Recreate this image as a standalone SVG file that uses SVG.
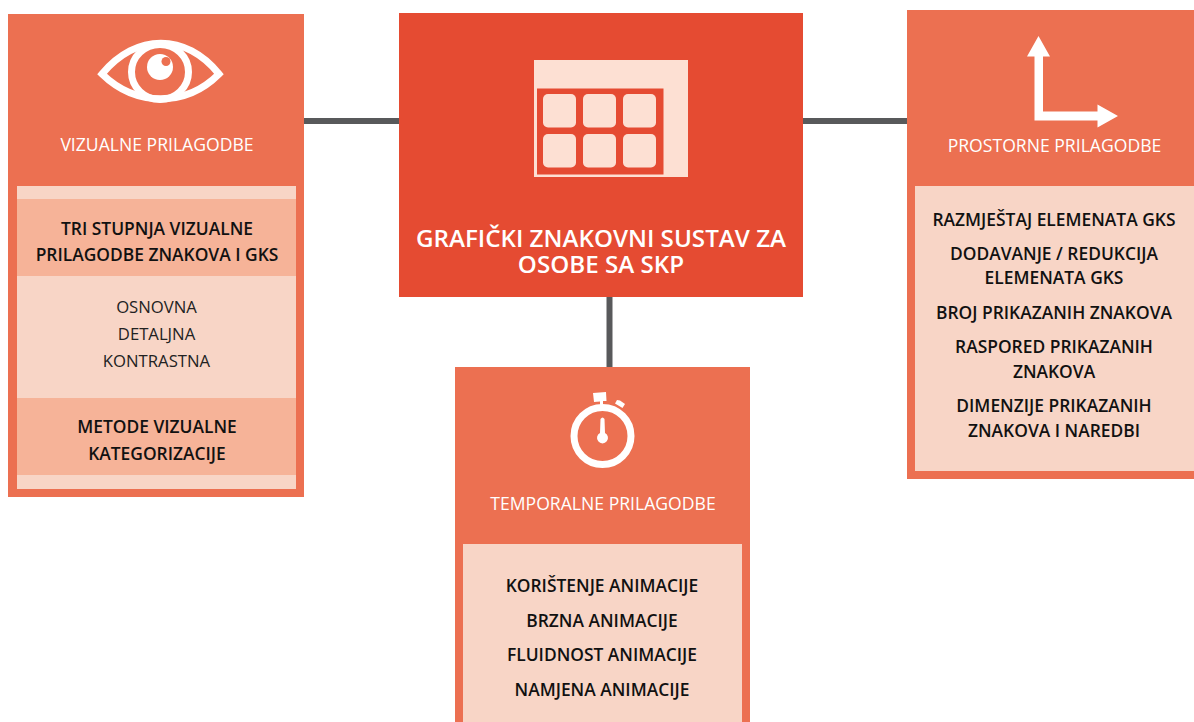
<svg xmlns="http://www.w3.org/2000/svg" width="1194" height="722" viewBox="0 0 1194 722">
<style>
.t{font-family:"Open Sans","Noto Sans","Liberation Sans",sans-serif;text-anchor:middle}
.w{fill:#fff;font-size:17.600px;font-weight:500}
.b{fill:#111;font-size:17.400px;font-weight:600}
.n{fill:#222;font-size:16.700px}
.o{fill:#ec7051}
.p{fill:#f8d5c6}
.s{fill:#f6b398}
.c{fill:#fde0d3}
</style>
<rect width="1194" height="722" fill="#fff"/>
<g id="connectors" stroke="#58595b" stroke-width="6" fill="none">
<path d="M304 121H399"/><path d="M803 121H907"/><path d="M609.500 297V367"/>
</g>
<g id="visual">
<rect class="o" x="8" y="14" width="296" height="483"/>
<rect class="p" x="17" y="186" width="279" height="303"/>
<rect class="s" x="17" y="199" width="279" height="77"/>
<rect class="s" x="17" y="398" width="279" height="77"/>
<g fill="none" stroke="#fff" stroke-width="7">
<path d="M102 74C136 33 186 33 219 74C186 107 136 107 102 74Z"/>
<ellipse cx="160" cy="72" rx="28.500" ry="27.500"/>
</g>
<circle cx="160" cy="67" r="13" fill="#fff"/><circle cx="166" cy="61.500" r="4.500" fill="#ec7051"/>
<text class="t w" x="157" y="151">VIZUALNE PRILAGODBE</text>
<text class="t b" x="157" y="234.500">TRI STUPNJA VIZUALNE</text>
<text class="t b" x="157" y="260.500">PRILAGODBE ZNAKOVA I GKS</text>
<text class="t n" x="156.500" y="313">OSNOVNA</text>
<text class="t n" x="156.500" y="340">DETALJNA</text>
<text class="t n" x="156.500" y="367">KONTRASTNA</text>
<text class="t b" x="157" y="433">METODE VIZUALNE</text>
<text class="t b" x="157" y="460">KATEGORIZACIJE</text>
</g>
<g id="central">
<rect x="399" y="13" width="404" height="284" fill="#e54b32"/>
<rect class="c" x="534" y="60" width="154" height="117"/>
<rect x="537" y="88.500" width="126.500" height="86" fill="#e54b32"/>
<g class="c">
<rect x="543" y="94" width="33" height="33.500" rx="5"/><rect x="583" y="94" width="33" height="33.500" rx="5"/><rect x="623" y="94" width="33" height="33.500" rx="5"/>
<rect x="543" y="134" width="33" height="33.500" rx="5"/><rect x="583" y="134" width="33" height="33.500" rx="5"/><rect x="623" y="134" width="33" height="33.500" rx="5"/>
</g>
<text class="t" x="601" y="247" fill="#fff" font-size="24.200" font-weight="600">GRAFIČKI ZNAKOVNI SUSTAV ZA</text>
<text class="t" x="601" y="273" fill="#fff" font-size="24.200" font-weight="600">OSOBE SA SKP</text>
</g>
<g id="spatial">
<rect class="o" x="907" y="10" width="287" height="469"/>
<rect class="p" x="915" y="186" width="279" height="285"/>
<path fill="#fff" d="M1038.500 36L1050 56.500H1043V111.500H1097.500V104.500L1118 116L1097.500 127.500V120.500H1034.500V56.500H1027Z"/>
<text class="t w" x="1054.500" y="152">PROSTORNE PRILAGODBE</text>
<text class="t b" x="1054" y="225.500">RAZMJEŠTAJ ELEMENATA GKS</text>
<text class="t b" x="1054" y="260">DODAVANJE / REDUKCIJA</text>
<text class="t b" x="1054" y="284">ELEMENATA GKS</text>
<text class="t b" x="1054" y="318.500">BROJ PRIKAZANIH ZNAKOVA</text>
<text class="t b" x="1054" y="353">RASPORED PRIKAZANIH</text>
<text class="t b" x="1054" y="377.500">ZNAKOVA</text>
<text class="t b" x="1054" y="412">DIMENZIJE PRIKAZANIH</text>
<text class="t b" x="1054" y="437">ZNAKOVA I NAREDBI</text>
</g>
<g id="temporal">
<rect class="o" x="455" y="367" width="295" height="355"/>
<rect class="p" x="463" y="544" width="279" height="178"/>
<circle cx="602.500" cy="436" r="28.500" fill="none" stroke="#fff" stroke-width="7"/>
<path fill="#fff" d="M593 393L606 392L606.500 401L603 401V407H600V401.500L594 402Z"/>
<path fill="#fff" d="M617 400L620 400.500L625 404L622.500 408L615 403.500Z"/>
<path fill="#fff" d="M600.500 419Q602.500 416 604.500 419L605 433A5.500 5.500 0 1 1 600 433Z"/>
<text class="t w" x="603" y="510">TEMPORALNE PRILAGODBE</text>
<text class="t b" x="602" y="591.500">KORIŠTENJE ANIMACIJE</text>
<text class="t b" x="602" y="626.500">BRZNA ANIMACIJE</text>
<text class="t b" x="602" y="660.500">FLUIDNOST ANIMACIJE</text>
<text class="t b" x="602" y="695.500">NAMJENA ANIMACIJE</text>
</g>
</svg>
